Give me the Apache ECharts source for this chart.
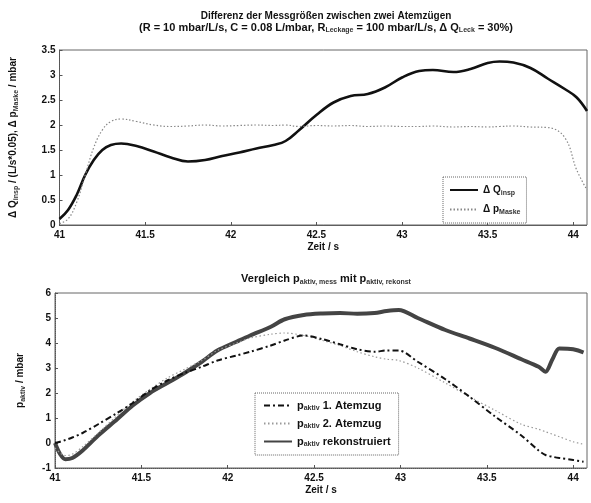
<!DOCTYPE html>
<html>
<head>
<meta charset="utf-8">
<script src="https://cdn.jsdelivr.net/npm/echarts@6/dist/echarts.min.js"></script>
<style>
  html, body { margin: 0; padding: 0; background: #fff; }
  #chart { width: 591px; height: 503px; }
</style>
</head>
<body>
<div id="chart"></div>
<script>
  // obere Grafik: Zeit / s
  var timeTop = [41.0, 41.05, 41.1, 41.15, 41.2, 41.25, 41.3, 41.36, 41.45, 41.55, 41.65, 41.75, 41.85, 41.95,
    42.05, 42.15, 42.25, 42.32, 42.4, 42.5, 42.6, 42.7, 42.8, 42.9, 43.0, 43.1, 43.18, 43.3, 43.4, 43.5,
    43.57, 43.65, 43.75, 43.85, 43.95, 44.02, 44.08];
  var deltaQ = [0.12, 0.3, 0.6, 1.0, 1.3, 1.5, 1.6, 1.63, 1.58, 1.47, 1.35, 1.27, 1.3, 1.38,
    1.45, 1.53, 1.6, 1.68, 1.9, 2.2, 2.45, 2.58, 2.62, 2.75, 2.95, 3.08, 3.1, 3.06, 3.12, 3.24,
    3.27, 3.25, 3.14, 2.93, 2.72, 2.55, 2.28];
  var deltaP = [0.03, 0.12, 0.45, 1.0, 1.55, 1.9, 2.07, 2.12, 2.07, 2.0, 1.97, 1.98, 2.0, 1.98,
    1.99, 2.0, 1.99, 2.0, 1.97, 1.99, 1.98, 1.99, 1.97, 1.98, 1.97, 1.97, 1.98, 1.96, 1.97, 1.96,
    1.97, 1.98, 1.96, 1.95, 1.75, 1.1, 0.7];

  // untere Grafik
  var timeBottom = [41.0, 41.03, 41.06, 41.1, 41.16, 41.25, 41.36, 41.45, 41.55, 41.65, 41.75, 41.85, 41.94,
    42.05, 42.13, 42.25, 42.33, 42.44, 42.55, 42.65, 42.75, 42.85, 42.92, 42.99, 43.1, 43.26, 43.4,
    43.55, 43.7, 43.8, 43.84, 43.88, 43.92, 44.0, 44.06];
  var pRekonst = [0.0, -0.45, -0.65, -0.6, -0.3, 0.3, 0.95, 1.5, 2.0, 2.4, 2.8, 3.25, 3.7,
    4.05, 4.3, 4.65, 4.95, 5.12, 5.18, 5.2, 5.17, 5.2, 5.28, 5.32, 5.0, 4.52, 4.18,
    3.8, 3.35, 3.05, 2.85, 3.35, 3.78, 3.75, 3.62];
  var pAtem1 = [0.0, 0.05, 0.12, 0.22, 0.4, 0.75, 1.2, 1.6, 2.1, 2.5, 2.8, 3.05, 3.3,
    3.5, 3.65, 3.9, 4.1, 4.3, 4.15, 3.95, 3.75, 3.65, 3.7, 3.7, 3.25, 2.55, 1.85,
    1.05, 0.3, -0.3, -0.48, -0.55, -0.6, -0.68, -0.75];
  var pAtem2 = [-0.2, -0.4, -0.5, -0.45, -0.15, 0.4, 1.1, 1.65, 2.15, 2.6, 2.95, 3.3, 3.7,
    4.0, 4.2, 4.35, 4.4, 4.3, 4.1, 3.9, 3.65, 3.45, 3.35, 3.3, 3.0, 2.4, 1.85,
    1.3, 0.75, 0.55, 0.45, 0.35, 0.25, 0.05, -0.05];

  var xTicks = [41, 41.5, 42, 42.5, 43, 43.5, 44];

  function pairs(xs, ys) {
    return xs.map(function (x, i) { return [x, ys[i]]; });
  }

  var font = 'Liberation Sans';
  var subStyle = function (size, pad) {
    return { fontSize: size, fontWeight: 'bold', color: '#333', fontFamily: font, verticalAlign: 'bottom', padding: [pad, 0, 0, 0] };
  };
  var txtStyle = function (size) {
    return { fontSize: size, fontWeight: 'bold', color: '#111', fontFamily: font };
  };

  function xAxisCfg(gridIndex) {
    return {
      type: 'value', gridIndex: gridIndex, min: 41, max: 44.08, interval: 0.5,
      name: 'Zeit / s', nameLocation: 'middle', nameGap: 17,
      nameTextStyle: txtStyle(10),
      axisLine: { show: true, onZero: false, lineStyle: { color: '#555', type: 'dotted' } },
      axisTick: { show: true, inside: true, length: 3, lineStyle: { color: '#555' } },
      axisLabel: { fontSize: 10, fontWeight: 'bold', color: '#111', fontFamily: font, margin: 5,
        showMaxLabel: false,
        formatter: function (v) { return xTicks.indexOf(v) >= 0 ? String(v) : ''; } },
      splitLine: { show: false }
    };
  }

  var chart = echarts.init(document.getElementById('chart'));
  var option = {
    backgroundColor: '#fff',
    animation: false,
    title: [{
      left: 321, top: 6, textAlign: 'center',
      text: 'Differenz der Messgrößen zwischen zwei Atemzügen',
      subtext: '{t|(R = 10 mbar/L/s, C = 0.08 L/mbar, R}{s|Leckage}{t| = 100 mbar/L/s, Δ Q}{s|Leck}{t| = 30%)}',
      itemGap: 0,
      textStyle: txtStyle(10),
      subtextStyle: { rich: { t: txtStyle(11), s: subStyle(7, 6) } }
    }, {
      left: 321, top: 267, textAlign: 'center',
      text: '{t|Vergleich p}{s|aktiv, mess}{t| mit p}{s|aktiv, rekonst}',
      textStyle: { rich: { t: txtStyle(11), s: subStyle(7, 7) } }
    }],
    grid: [
      { left: 55, right: 4, top: 50, height: 175, show: true, borderColor: '#666', borderWidth: 1, backgroundColor: 'transparent' },
      { left: 55, right: 4, top: 293, height: 175, show: true, borderColor: '#666', borderWidth: 1, backgroundColor: 'transparent' }
    ],
    legend: [{
      left: 443, top: 177, width: 92, orient: 'vertical', padding: [8, 6, 7, 6], itemGap: 8,
      itemWidth: 28, itemHeight: 10, itemStyle: { opacity: 0 },
      borderColor: '#666', borderWidth: 1, borderType: 'dotted', backgroundColor: '#fff',
      data: ['dQ', 'dP'],
      formatter: function (n) {
        return n === 'dQ' ? '{t|Δ Q}{s|insp}' : '{t|Δ p}{s|Maske}';
      },
      textStyle: { rich: { t: txtStyle(10), s: subStyle(7, 6) } }
    }, {
      left: 255, top: 393, width: 147, orient: 'vertical', padding: [7, 8, 7, 8], itemGap: 6,
      itemWidth: 28, itemHeight: 10, itemStyle: { opacity: 0 },
      borderColor: '#666', borderWidth: 1, borderType: 'dotted', backgroundColor: '#fff',
      data: ['a1', 'a2', 'rk'],
      formatter: function (n) {
        var lab = { a1: '1. Atemzug', a2: '2. Atemzug', rk: 'rekonstruiert' }[n];
        return '{t|p}{s|aktiv}{t| ' + lab + '}';
      },
      textStyle: { rich: { t: txtStyle(11), s: subStyle(7, 6) } }
    }],
    xAxis: [xAxisCfg(0), xAxisCfg(1)],
    yAxis: [{
      type: 'value', gridIndex: 0, min: 0, max: 3.5, interval: 0.5,
      name: '{t|Δ Q}{s|insp}{t| / (L/s*0.05), Δ p}{s|Maske}{t| / mbar}',
      nameLocation: 'middle', nameGap: 40,
      nameTextStyle: { rich: { t: txtStyle(10), s: subStyle(7, 6) } },
      axisLine: { show: true, lineStyle: { color: '#555', type: 'dotted' } },
      axisTick: { show: true, inside: true, length: 3, lineStyle: { color: '#555' } },
      axisLabel: { fontSize: 10, fontWeight: 'bold', color: '#111', fontFamily: font, margin: 4 },
      splitLine: { show: false }
    }, {
      type: 'value', gridIndex: 1, min: -1, max: 6, interval: 1,
      name: '{t|p}{s|aktiv}{t| / mbar}',
      nameLocation: 'middle', nameGap: 28,
      nameTextStyle: { rich: { t: txtStyle(10), s: subStyle(7, 6) } },
      axisLine: { show: true, lineStyle: { color: '#555', type: 'dotted' } },
      axisTick: { show: true, inside: true, length: 3, lineStyle: { color: '#555' } },
      axisLabel: { fontSize: 10, fontWeight: 'bold', color: '#111', fontFamily: font, margin: 4 },
      splitLine: { show: false }
    }],
    series: [{
      name: 'dQ', type: 'line', xAxisIndex: 0, yAxisIndex: 0, smooth: 0.4, symbol: 'none',
      data: pairs(timeTop, deltaQ),
      lineStyle: { color: '#111', width: 2.6 }, itemStyle: { color: '#111' }
    }, {
      name: 'dP', type: 'line', xAxisIndex: 0, yAxisIndex: 0, smooth: 0.4, symbol: 'none',
      data: pairs(timeTop, deltaP),
      lineStyle: { color: '#888', width: 1.2, type: [1.5, 2] }, itemStyle: { color: '#888' }
    }, {
      name: 'rk', type: 'line', xAxisIndex: 1, yAxisIndex: 1, smooth: 0.3, symbol: 'none',
      data: pairs(timeBottom, pRekonst),
      lineStyle: { color: '#444', width: 4 }, itemStyle: { color: '#444' }
    }, {
      name: 'a2', type: 'line', xAxisIndex: 1, yAxisIndex: 1, smooth: 0.3, symbol: 'none',
      data: pairs(timeBottom, pAtem2),
      lineStyle: { color: '#999', width: 1.2, type: [1.5, 2.5] }, itemStyle: { color: '#999' }
    }, {
      name: 'a1', type: 'line', xAxisIndex: 1, yAxisIndex: 1, smooth: 0.3, symbol: 'none',
      data: pairs(timeBottom, pAtem1),
      lineStyle: { color: '#111', width: 2, type: [6, 3, 2, 3] }, itemStyle: { color: '#111' }
    }]
  };
  chart.setOption(option);
</script>
</body>
</html>
